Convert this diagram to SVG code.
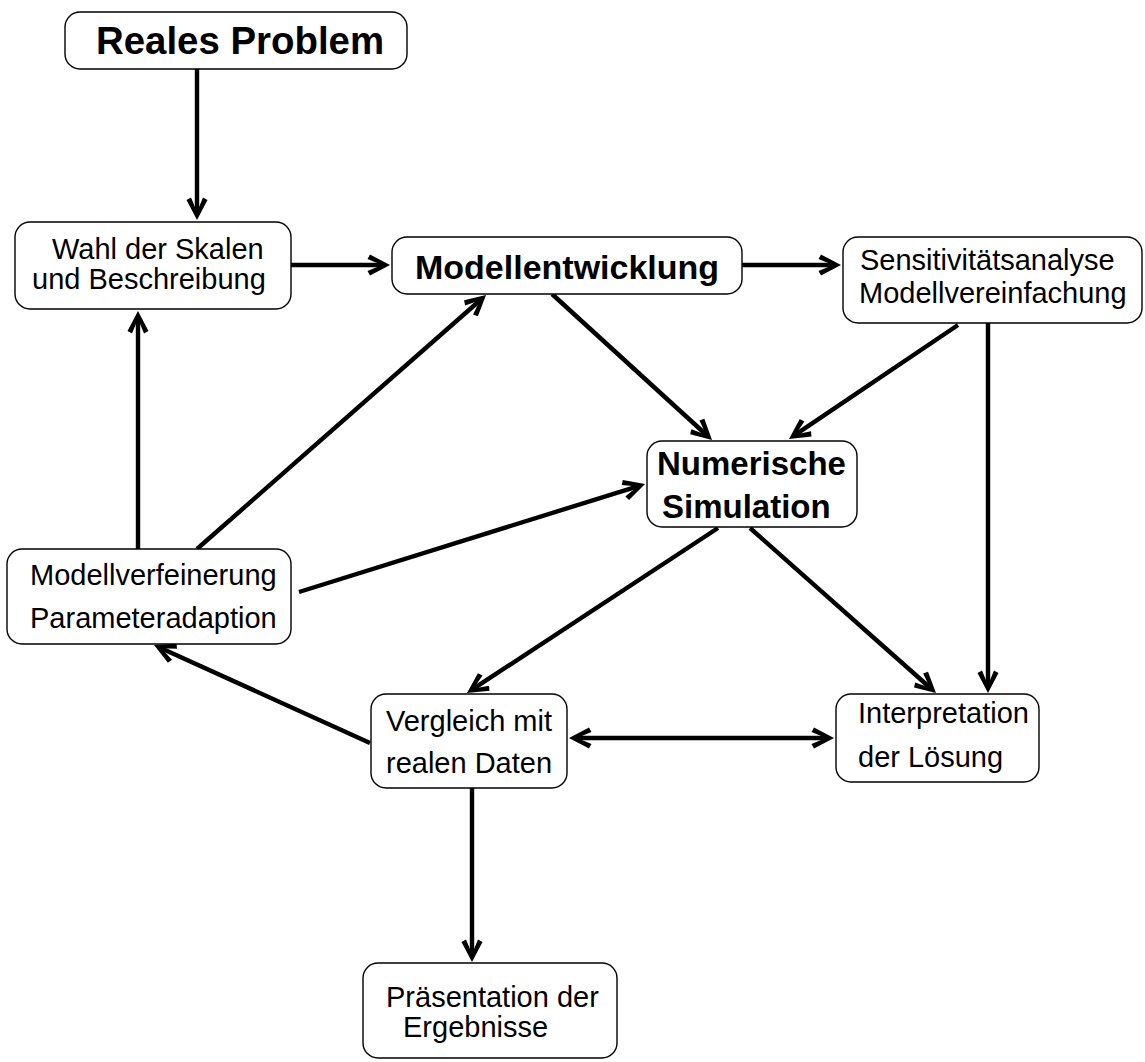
<svg xmlns="http://www.w3.org/2000/svg" width="1145" height="1062" viewBox="0 0 1145 1062">
<style>
.box{fill:#fff;stroke:#000;stroke-width:1.4}
.t{font-family:"Liberation Sans",Arial,sans-serif;font-size:29px;fill:#000}
.b{font-family:"Liberation Sans",Arial,sans-serif;font-weight:bold;font-size:33.5px;fill:#000}
.c line{stroke:#000;stroke-width:4.4;marker-end:url(#ah)}
</style>
<defs>
<marker id="ah" markerUnits="userSpaceOnUse" markerWidth="30" markerHeight="30" viewBox="-20 -15 30 30" refX="0" refY="0" orient="auto-start-reverse" overflow="visible">
<path d="M6,0 L-14,-10.5 L-16.5,-6 L-2,0 L-16.5,6 L-14,10.5 Z" fill="#000"/>
</marker>
</defs>
<g class="c" id="connectors">
<line x1="197" y1="69" x2="197" y2="214"/>
<line x1="291" y1="265" x2="384" y2="265"/>
<line x1="742" y1="265" x2="835" y2="265"/>
<line x1="552" y1="294" x2="707.6" y2="436"/>
<line x1="958" y1="325" x2="794" y2="435.6"/>
<line x1="988" y1="323" x2="988" y2="687"/>
<line x1="138" y1="549" x2="138" y2="317"/>
<line x1="197" y1="549" x2="481.5" y2="299"/>
<line x1="299" y1="592" x2="639.3" y2="485.8"/>
<line x1="718" y1="528" x2="472" y2="689.7"/>
<line x1="750" y1="528" x2="931.5" y2="689"/>
<line x1="370" y1="743" x2="159.5" y2="647.5"/>
<line x1="575" y1="738" x2="828" y2="738" style="marker-start:url(#ah)"/>
<line x1="472" y1="788" x2="472" y2="956"/>
</g>
<g id="reales">
<rect class="box" x="65" y="12" width="342" height="57" rx="15"/>
<text class="b" x="96" y="54" style="font-size:38.4px">Reales Problem</text>
</g>
<g id="wahl">
<rect class="box" x="15" y="222" width="276" height="87" rx="15"/>
<text class="t" x="52" y="259">Wahl der Skalen</text>
<text class="t" x="32" y="289">und Beschreibung</text>
</g>
<g id="modellentwicklung">
<rect class="box" x="392" y="237" width="350" height="57" rx="15"/>
<text class="b" x="415" y="279" style="font-size:34px">Modellentwicklung</text>
</g>
<g id="sensitivitaet">
<rect class="box" x="843" y="237" width="299" height="86" rx="15"/>
<text class="t" x="860" y="270">Sensitivitätsanalyse</text>
<text class="t" x="859" y="303">Modellvereinfachung</text>
</g>
<g id="numerische">
<rect class="box" x="647" y="441" width="210" height="86" rx="15"/>
<text class="b" x="657" y="475" style="font-size:33px">Numerische</text>
<text class="b" x="662" y="518" style="font-size:33px">Simulation</text>
</g>
<g id="modellverfeinerung">
<rect class="box" x="7" y="549" width="284" height="95" rx="15"/>
<text class="t" x="30" y="585">Modellverfeinerung</text>
<text class="t" x="30" y="628">Parameteradaption</text>
</g>
<g id="vergleich">
<rect class="box" x="371" y="694" width="196" height="94" rx="15"/>
<text class="t" x="386" y="731">Vergleich mit</text>
<text class="t" x="386" y="773">realen Daten</text>
</g>
<g id="interpretation">
<rect class="box" x="836" y="694" width="203" height="88" rx="15"/>
<text class="t" x="858" y="723">Interpretation</text>
<text class="t" x="858" y="767">der Lösung</text>
</g>
<g id="praesentation">
<rect class="box" x="363" y="963" width="254" height="95" rx="15"/>
<text class="t" x="386" y="1007">Präsentation der</text>
<text class="t" x="403" y="1037">Ergebnisse</text>
</g>
</svg>
